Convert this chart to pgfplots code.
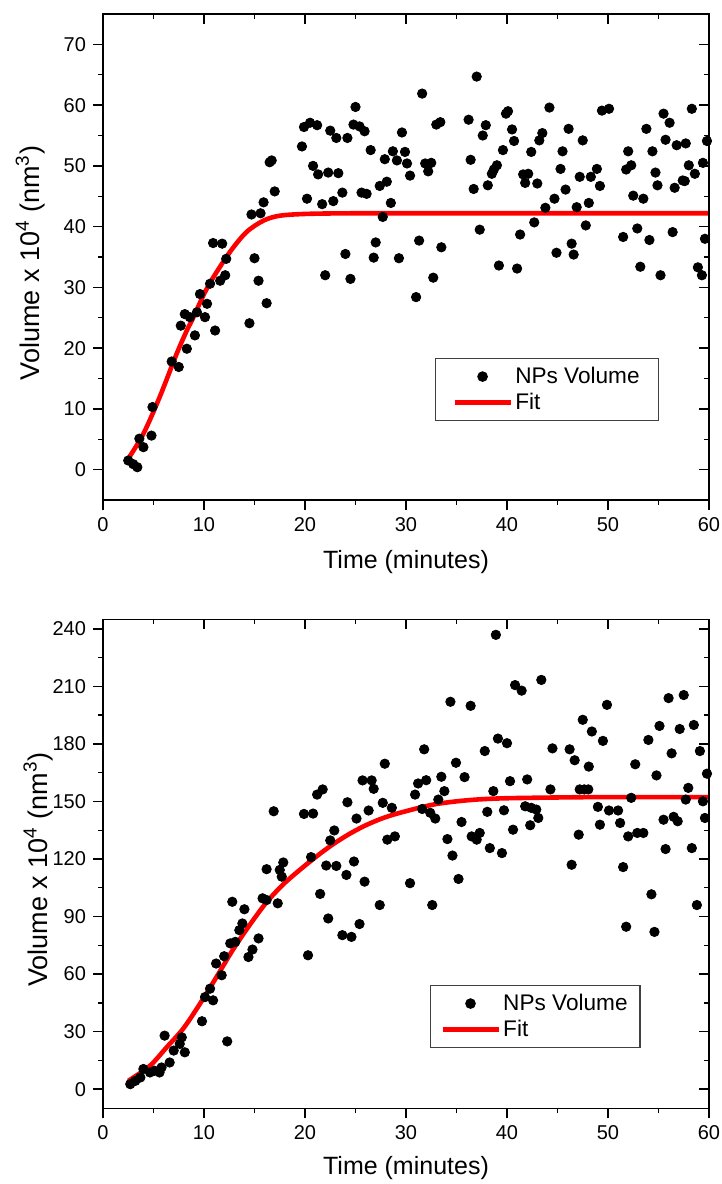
\documentclass[border=0pt]{standalone}
\usepackage{pgfplots}
\pgfplotsset{compat=1.18}
\usepackage{fontspec}
\setmainfont{Liberation Sans}
\definecolor{fitred}{RGB}{255,0,0}
\pgfplotsset{
  common/.style={
    scale only axis, width=303pt,
    xmin=0, xmax=60, xtick={0,10,...,60}, minor x tick num=1,
    tick align=outside, xtick pos=left, ytick pos=left,
    axis line style={line width=0.8pt},
    every tick/.style={black, line width=0.7pt},
    major tick length=5pt, minor tick length=2.5pt,
    tick label style={font=\fontsize{10}{12}\selectfont},
    xlabel style={font=\fontsize{12.5}{15}\selectfont},
    ylabel style={font=\fontsize{13.5}{16}\selectfont},
    /pgf/number format/assume math mode=true,
    xlabel={Time (minutes)},
    ylabel={Volume x 10\textsuperscript{4} (nm\textsuperscript{3})},
    legend cell align=left,
    legend style={draw=black!75, line width=0.6pt, font=\fontsize{11.3}{13}\selectfont,
      inner ysep=2.5pt, nodes={inner xsep=1.2pt, inner ysep=1.6pt}},
  },
  mirror/.style={
    scale only axis, width=303pt,
    xmin=0, xmax=60, xtick={0,10,...,60}, minor x tick num=1,
    tick align=inside, xtick pos=right, ytick pos=right,
    xticklabels={}, yticklabels={},
    axis line style={line width=0.8pt},
    every tick/.style={black, line width=0.7pt},
    major tick length=5pt, minor tick length=2.5pt,
  },
  dots/.style={only marks, mark=*, mark size=2.35pt, black,
    legend image code/.code={\draw[draw=none] (0pt,0pt) -- (28pt,0pt);
      \draw[##1,mark repeat=2,mark phase=2] plot coordinates {(0pt,0pt) (14pt,0pt) (28pt,0pt)};}},
  fitline/.style={no marks, fitred, line width=2.3pt, smooth,
    legend image code/.code={\draw[##1] (0pt,0pt) -- (28pt,0pt);}},
}
\begin{document}
\begin{tikzpicture}[x=1pt,y=1pt]
\useasboundingbox (0,0) rectangle (361,-592);
% ---------------- top panel ----------------
\begin{axis}[common,
  at={(51.5pt,-250pt)}, anchor=south west, height=243pt,
  ymin=-5, ymax=75, ytick={0,10,...,70}, minor y tick num=1,
  legend style={at={(axis description cs:0.548,0.292)}, anchor=north west, inner xsep=8.3pt},
  ylabel style={at={(axis description cs:-0.12,0.488)}, anchor=center},
  xlabel style={at={(axis description cs:0.5,-0.128)}, anchor=center},
]
\addplot[dots] table {
2.5 1.5
3.0 0.9
3.4 0.4
3.6 5.1
4.0 3.7
4.8 5.6
4.9 10.3
6.8 17.8
7.5 16.9
8.3 19.9
7.7 23.7
8.1 25.6
8.6 25.1
9.1 22.1
9.3 25.9
9.6 28.9
10.1 25.1
10.3 27.3
10.6 30.6
11.1 22.9
11.6 31.1
12.1 32.0
12.2 34.7
10.9 37.3
11.8 37.2
14.5 24.1
15.0 34.8
15.4 31.1
16.2 27.4
14.7 42.0
15.6 42.2
15.9 44.0
17.0 45.8
16.5 50.6
16.7 50.9
19.7 53.2
19.9 56.4
20.5 57.1
21.2 56.7
20.2 44.6
20.8 50.0
21.3 48.6
22.3 48.9
21.7 43.7
22.0 32.0
22.5 55.8
23.1 54.6
22.8 44.2
23.3 48.8
23.7 45.6
24.0 35.5
24.2 54.6
24.5 31.4
25.0 59.7
24.8 56.8
25.4 56.5
25.9 55.7
25.6 45.6
26.1 45.4
26.5 52.6
26.8 34.9
27.0 37.4
27.4 46.7
28.1 47.4
27.7 41.6
27.9 51.1
28.5 43.9
28.7 52.4
29.1 50.9
29.3 34.8
29.6 55.5
29.9 52.3
30.1 50.4
30.4 48.4
31.6 61.9
31.3 37.7
31.0 28.4
31.9 50.4
32.5 50.5
32.2 49.1
32.7 31.6
33.0 56.8
33.4 57.2
33.5 36.6
36.2 57.6
36.4 51.0
36.7 46.2
37.0 64.7
37.3 39.5
37.6 55.0
37.9 56.7
38.1 46.8
38.5 48.7
39.0 50.1
38.7 49.4
39.2 33.6
39.6 52.6
39.9 58.6
40.1 59.0
40.5 56.0
40.7 54.1
41.0 33.1
41.3 38.7
41.6 48.6
42.1 48.7
41.8 47.2
42.4 52.3
42.7 40.7
43.0 47.1
43.2 54.2
43.5 55.4
43.8 43.1
44.2 59.6
44.7 44.6
44.9 35.7
45.3 49.5
45.5 52.4
45.8 46.1
46.1 56.1
46.4 37.2
46.6 35.4
46.9 43.2
47.2 48.2
47.5 54.2
47.8 40.2
48.1 43.9
48.3 48.2
48.9 49.5
49.2 46.7
49.4 59.1
50.1 59.4
51.5 38.3
51.8 49.4
52.3 50.1
52.0 52.4
52.5 45.1
53.5 44.6
52.9 39.7
53.2 33.4
53.8 56.1
54.1 37.8
54.4 52.4
54.7 48.9
54.9 46.8
55.2 32.0
55.5 58.6
56.1 57.1
55.7 54.3
56.4 39.1
56.6 46.4
56.8 53.4
57.7 53.7
57.4 47.6
57.6 47.5
58.0 50.1
58.6 48.7
58.3 59.4
58.9 33.3
59.3 32.0
59.4 50.5
59.6 38.0
59.8 54.1
};
\addlegendentry{NPs Volume}
\addplot[fitline] table {
2.5 1.8
4.0 5.9
5.6 11.9
7.3 19.1
8.3 22.9
8.9 24.9
10.0 28.9
10.9 31.6
12.6 35.9
14.2 39.1
15.9 41.0
17.5 41.8
20.2 42.1
25 42.2
35 42.2
45 42.2
60 42.2
};
\addlegendentry{Fit}
\end{axis}
\begin{axis}[mirror, at={(51.5pt,-250pt)}, anchor=south west, height=243pt,
  ymin=-5, ymax=75, ytick={0,10,...,70}, minor y tick num=1]
\end{axis}
% ---------------- bottom panel ----------------
\begin{axis}[common,
  at={(51.5pt,-554.15pt)}, anchor=south west, height=244.5pt,
  ymin=-10, ymax=245, ytick={0,30,...,240}, minor y tick num=1,
  legend style={at={(axis description cs:0.539,0.252)}, anchor=north west, inner xsep=5pt},
  ylabel style={at={(axis description cs:-0.107,0.488)}, anchor=center},
  xlabel style={at={(axis description cs:0.5,-0.123)}, anchor=center},
]
\addplot[dots] table {
2.7 2.6
3.2 4.3
3.7 6.1
4.0 10.5
4.65 8.7
5.1 9.6
5.6 8.7
5.8 11.3
6.1 27.9
6.6 13.9
7.0 20.1
7.6 23.6
7.8 27.0
8.1 19.2
9.8 35.4
10.1 48.0
10.6 52.4
10.9 46.3
11.2 65.5
11.75 59.4
12.0 69.3
12.3 24.9
12.6 76.0
13.1 76.8
12.8 97.7
13.5 82.9
13.8 86.4
14.0 93.8
14.4 68.9
14.8 72.8
15.4 78.6
15.8 99.5
16.2 98.6
16.2 114.7
17.5 114.3
17.85 118.2
17.7 110.8
16.9 144.9
17.3 96.9
19.9 143.5
20.8 143.7
20.3 69.8
20.6 121.0
21.2 153.6
21.75 156.3
21.5 101.8
22.1 116.6
22.3 89.0
22.5 129.7
22.9 134.9
23.1 116.4
24.1 111.7
23.7 80.3
24.6 79.4
24.2 149.6
24.85 118.7
25.1 141.1
25.4 86.1
25.7 161.0
26.6 161.0
26.8 156.6
25.9 108.2
26.3 145.3
27.4 96.0
27.7 149.3
28.6 146.7
27.9 169.7
28.15 130.1
28.9 131.8
30.4 107.4
30.9 153.6
31.2 159.4
32.0 161.1
31.6 146.1
31.8 177.2
32.4 144.1
32.9 141.1
32.6 96.0
33.2 151.0
33.8 155.4
33.5 162.9
34.1 130.4
34.4 202.0
34.6 121.8
34.95 170.2
35.2 109.6
35.5 139.3
35.8 162.7
36.4 199.9
36.5 131.8
37.0 130.1
37.3 133.6
37.8 176.3
38.05 144.6
38.3 125.7
38.65 155.4
38.9 236.9
39.1 182.8
40.0 180.4
39.5 123.1
39.7 145.4
40.3 160.6
40.6 135.3
40.8 210.7
41.45 207.8
41.8 147.5
42.4 146.7
42.9 145.8
43.1 141.4
42.3 137.6
42.0 161.5
43.4 213.4
44.3 156.3
44.5 177.7
46.2 177.2
46.7 171.5
46.4 117.0
47.1 132.7
47.2 156.3
47.65 156.3
48.05 156.3
47.5 192.6
48.1 168.2
48.4 186.5
49.0 147.2
49.2 137.9
49.5 181.6
49.9 200.4
50.1 145.3
51.0 145.3
51.2 138.8
51.5 115.8
51.8 84.7
52.0 131.8
52.3 151.9
52.7 169.4
52.9 133.6
53.5 133.6
54.0 182.1
54.3 101.6
54.6 82.0
54.8 163.6
55.1 189.4
55.5 140.5
55.7 125.2
56.0 203.9
56.3 175.1
56.5 142.0
56.9 139.7
57.1 187.8
57.5 205.5
57.7 151.0
57.95 157.1
58.3 125.7
58.5 189.9
58.8 96.0
59.1 176.3
59.4 150.1
59.6 141.4
59.8 164.5
};
\addlegendentry{NPs Volume}
\addplot[fitline] table {
2.5 4.3
4.65 12.2
6.3 21.8
7.95 31.6
9.6 44.5
11.3 59.0
12.9 73.0
14.55 85.8
16.2 97.5
17.85 106.8
19.5 114.4
21.2 121.6
22.8 127.8
24.5 133.4
26.1 137.8
27.75 141.4
29.4 144.1
32.7 148.4
36 150.6
39.3 151.6
45 152.1
50 152.3
60 152.3
};
\addlegendentry{Fit}
\end{axis}
\begin{axis}[mirror, at={(51.5pt,-554.15pt)}, anchor=south west, height=244.5pt,
  ymin=-10, ymax=245, ytick={0,30,...,240}, minor y tick num=1]
\end{axis}
\end{tikzpicture}
\end{document}
